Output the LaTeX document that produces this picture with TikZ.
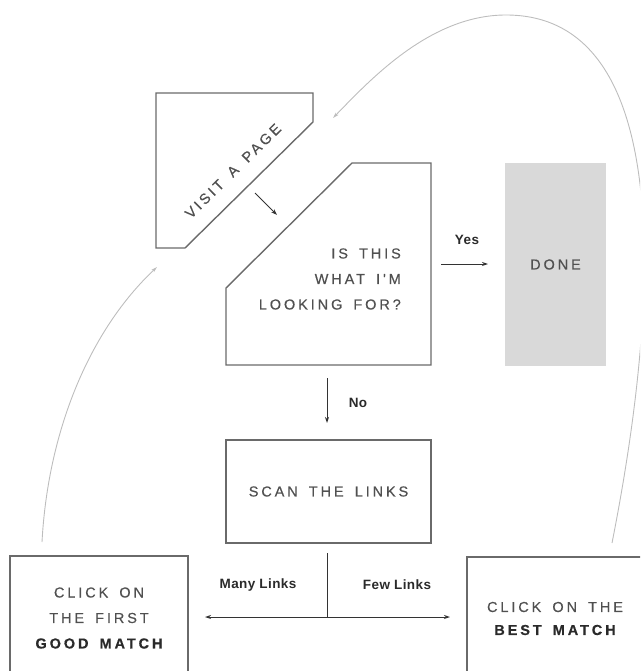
\documentclass[tikz,border=0pt]{standalone}
\usepackage{fontspec}
\setmainfont{Liberation Sans}
\newfontfamily\boxfont[LetterSpace=20,FakeBold=0.4,WordSpace=1.6]{Liberation Sans}
\newfontfamily\lblfont[LetterSpace=3]{Liberation Sans}
\usetikzlibrary{arrows.meta}
\definecolor{edge}{HTML}{6A6A6A}
\definecolor{txt}{HTML}{505050}
\definecolor{dtxt}{HTML}{2A2A2A}
\definecolor{donefill}{HTML}{D9D9D9}
\definecolor{curvecol}{HTML}{BDBDBD}
\definecolor{arrcol}{HTML}{333333}
\begin{document}
\begin{tikzpicture}[x=1pt,y=-1pt,
  shapeline/.style={draw=edge, line width=1.4pt, line join=miter},
  boxtext/.style={text=txt, inner sep=0pt, font=\fontsize{14.5}{25.5}\selectfont\boxfont},
  lbl/.style={text=dtxt, inner sep=0pt, font=\fontsize{13.5}{15}\selectfont\lblfont\bfseries},
  flow/.style={draw=arrcol, line width=1pt, -{Stealth[length=6pt,width=4pt]}},
  flowline/.style={draw=arrcol, line width=1pt},
  back/.style={draw=curvecol, line width=0.9pt, -{Stealth[length=6pt,width=3.5pt]}}
]
\useasboundingbox (0,0) rectangle (640,671);
\clip (0,0) rectangle (640,671);

% Visit a page
\draw[shapeline] (156,93) -- (313,93) -- (313,122) -- (185,248) -- (156,248) -- cycle;
\node[boxtext, rotate=44.5] (visit) at (233,171) {VISIT A PAGE};

% Is this what I'm looking for
\draw[shapeline] (352,163) -- (431,163) -- (431,365) -- (226,365) -- (226,288) -- cycle;
\node[boxtext, align=right, anchor=east] (isthis) at (401,279) {IS THIS\\WHAT I'M\\LOOKING FOR?};

% Done
\node[fill=donefill, minimum width=101pt, minimum height=203pt, inner sep=0pt,
      text=txt, font=\fontsize{14.5}{16}\selectfont\boxfont] (done) at (555.5,264.5) {DONE};

% Scan the links
\node[shapeline, minimum width=205pt, minimum height=103pt, inner sep=0pt,
      text=txt, font=\fontsize{14.5}{16}\selectfont\boxfont] (scan) at (328.5,491.5) {\raisebox{-3pt}{SCAN THE LINKS}};

% Bottom boxes
\draw[shapeline] (10,700) -- (10,556) -- (188,556) -- (188,700);
\node[boxtext, align=center] (first) at (99,618) {CLICK ON\\THE FIRST\\\textcolor{dtxt}{\bfseries GOOD MATCH}};
\draw[shapeline] (467,700) -- (467,557) -- (660,557);
\node[boxtext, align=center, font=\fontsize{14.5}{23}\selectfont\boxfont] (best) at (555,618.5) {CLICK ON THE\\\textcolor{dtxt}{\bfseries BEST MATCH}};

% small arrows
\coordinate (va) at (255,193); \coordinate (vb) at (277,215);
\draw[flow] (va) -- (vb);

\coordinate (ya) at (441,264); \coordinate (yb) at (488,264);
\draw[flow] (ya) -- (yb);
\node[lbl] (yes) at (467,240) {Yes};

\coordinate (na) at (327,378); \coordinate (nb) at (327,423);
\draw[flow] (na) -- (nb);
\node[lbl] (no) at (358,403) {No};

\coordinate (st) at (327,553); \coordinate (split) at (327,617);
\coordinate (ml) at (205,617); \coordinate (fl) at (450,617);
\draw[flowline] (st) -- (split);
\draw[flow] (split) -- (ml);
\draw[flow] (split) -- (fl);
\node[lbl] (many) at (258,585) {Many Links};
\node[lbl] (few) at (397,585) {Few Links};

% feedback curves
\coordinate (bs) at (612,543); \coordinate (topc) at (506,15); \coordinate (vt) at (333,118);
\draw[back] (bs) .. controls (662,290) and (672,15) .. (topc) .. controls (430,15) and (370,80) .. (vt);
\coordinate (fs) at (42,542); \coordinate (vp) at (157,267);
\draw[back] (fs) .. controls (48,430) and (90,330) .. (vp);
\end{tikzpicture}
\end{document}
